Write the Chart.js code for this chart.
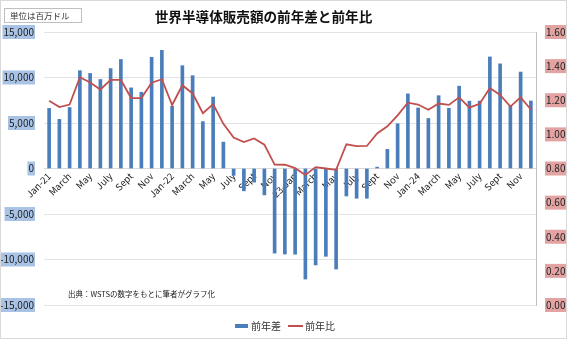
<!DOCTYPE html>
<html>
<head>
<meta charset="utf-8">
<script src="https://cdn.jsdelivr.net/npm/chart.js@4.4.1/dist/chart.umd.min.js"></script>
<style>
  html,body{margin:0;padding:0;background:#fff;}
  #wrap{position:relative;width:567px;height:339px;}
</style>
</head>
<body>
<div id="wrap"><canvas id="c" width="567" height="339"></canvas></div>
<script>
// ---- data ----
const months = [
  'Jan-21','Feb','March','April','May','June','July','Aug','Sept','Oct','Nov','Dec',
  'Jan-22','Feb','March','April','May','June','July','Aug','Sept','Oct','Nov','Dec',
  '23-Jan','Feb','March','April','May','June','July','Aug','Sept','Oct','Nov','Dec',
  'Jan-24','Feb','March','April','May','June','July','Aug','Sept','Oct','Nov','Dec'
];
const yoyDiff = [
  6600, 5400, 6700, 10750, 10450, 9780, 10980, 11980, 8860, 8380, 12220, 12980,
  6840, 11300, 10200, 5150, 7850, 2900, -750, -2450, -1500, -2900, -9300, -9400,
  -9420, -12150, -10600, -9650, -11050, -3020, -3270, -3270, 150, 2100, 4920, 8200,
  6650, 5500, 8000, 6620, 9050, 7400, 7400, 12260, 11500, 6900, 10600, 7420
];
const yoyRatio = [
  1.197, 1.16, 1.175, 1.335, 1.304, 1.263, 1.319, 1.319, 1.213, 1.213, 1.303, 1.323,
  1.172, 1.288, 1.24, 1.124, 1.177, 1.062, 0.982, 0.955, 0.976, 0.94, 0.823, 0.822,
  0.802, 0.762, 0.808, 0.80, 0.792, 0.942, 0.931, 0.932, 1.005, 1.047, 1.111, 1.186,
  1.175, 1.144, 1.181, 1.173, 1.217, 1.157, 1.179, 1.272, 1.231, 1.163, 1.217, 1.146
];
const seriesNames = ['前年差', '前年比'];
const titleText = '世界半導体販売額の前年差と前年比';
const unitText = '単位は百万ドル';
const sourceText = '出典：WSTSの数字をもとに筆者がグラフ化';

const FONT = "'Noto Sans CJK JP', 'Liberation Sans', sans-serif";
const BAR_COLOR = '#4a7ebb';
const LINE_COLOR = '#c0504d';

const decor = {
  id: 'decor',
  afterDraw(chart) {
    const ctx = chart.ctx;
    ctx.save();
    // outer frame
    ctx.strokeStyle = '#d9d9d9';
    ctx.lineWidth = 1;
    ctx.strokeRect(0.5, 0.5, 566, 338);
    // unit box
    ctx.strokeStyle = '#bfbfbf';
    ctx.strokeRect(4.5, 8.5, 77, 14);
    ctx.fillStyle = '#333';
    ctx.font = "8.5px " + FONT;
    ctx.textBaseline = 'middle';
    ctx.textAlign = 'left';
    ctx.fillText(unitText, 10, 15.5);
    // title
    ctx.fillStyle = '#111';
    ctx.font = "bold 13.6px " + FONT;
    ctx.textAlign = 'center';
    ctx.fillText(titleText, 263.5, 17);
    // source note
    ctx.textAlign = 'left';
    ctx.font = "7.5px " + FONT;
    ctx.fillStyle = '#222';
    ctx.fillText(sourceText, 68, 294);
    // legend
    const ds = chart.data.datasets;
    ctx.font = "10px " + FONT;
    ctx.fillStyle = ds[0].backgroundColor;
    ctx.fillRect(235, 324, 13, 4);
    ctx.fillStyle = '#333';
    ctx.fillText(ds[0].label, 251, 326.5);
    ctx.strokeStyle = ds[1].borderColor;
    ctx.lineWidth = 2;
    ctx.beginPath();
    ctx.moveTo(288, 326);
    ctx.lineTo(303, 326);
    ctx.stroke();
    ctx.fillText(ds[1].label, 305, 326.5);
    ctx.restore();
  }
};

new Chart(document.getElementById('c'), {
  data: {
    labels: months,
    datasets: [
      {
        type: 'bar',
        label: seriesNames[0],
        data: yoyDiff,
        backgroundColor: BAR_COLOR,
        borderWidth: 0,
        barThickness: 3,
        yAxisID: 'y',
        order: 2
      },
      {
        type: 'line',
        label: seriesNames[1],
        data: yoyRatio,
        borderColor: LINE_COLOR,
        backgroundColor: LINE_COLOR,
        borderWidth: 1.8,
        pointRadius: 0,
        tension: 0,
        yAxisID: 'y1',
        order: 1
      }
    ]
  },
  plugins: [decor],
  options: {
    responsive: false,
    animation: false,
    devicePixelRatio: 1,
    layout: { padding: { left: 0, right: 0, top: 32, bottom: 34 } },
    plugins: {
      title: { display: false },
      legend: { display: false },
      tooltip: { enabled: false }
    },
    scales: {
      x: {
        position: { y: 0 },
        offset: true,
        grid: { display: false, drawTicks: false },
        border: { display: true, color: '#d9d9d9' },
        ticks: {
          autoSkip: false,
          maxRotation: 45,
          minRotation: 45,
          padding: 2,
          color: '#222',
          font: { family: FONT, size: 9.5 },
          callback: function(v, i) { return i % 2 === 0 ? months[i] : ''; }
        }
      },
      y: {
        position: 'left',
        min: -15000,
        max: 15000,
        grid: { color: '#e3e3e3', drawTicks: false },
        border: { display: false },
        afterFit: function(s) { s.width = 44; },
        ticks: {
          stepSize: 5000,
          padding: 10,
          color: '#222',
          font: { family: FONT, size: 10 },
          showLabelBackdrop: true,
          backdropColor: '#a8c3e6',
          backdropPadding: 1,
          callback: function(v) { return v.toLocaleString('en-US'); }
        }
      },
      y1: {
        position: 'right',
        min: 0,
        max: 1.6,
        grid: { display: false, drawTicks: true, tickLength: 3 },
        border: { display: true, color: '#bfbfbf' },
        afterFit: function(s) { s.width = 31; },
        ticks: {
          stepSize: 0.2,
          padding: 7,
          color: '#222',
          font: { family: FONT, size: 10 },
          showLabelBackdrop: true,
          backdropColor: '#e2a3a2',
          backdropPadding: 1,
          callback: function(v) { return v.toFixed(2); }
        }
      }
    }
  }
});
</script>
</body>
</html>
